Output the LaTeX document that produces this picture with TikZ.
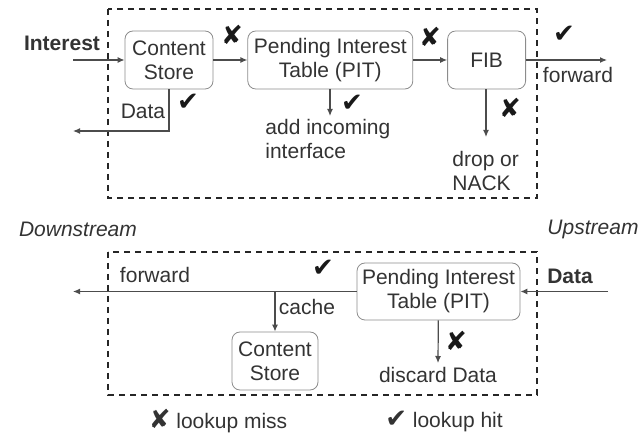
\documentclass[tikz,border=0pt]{standalone}
\usepackage{fontspec}
\setmainfont{Liberation Sans}
\newfontfamily\marksfont{DejaVu Sans}
\usetikzlibrary{arrows.meta,positioning}
\newcommand{\missmark}{{\marksfont\fontsize{13}{13}\selectfont ✘}}
\newcommand{\hitmark}{{\marksfont\fontsize{13}{13}\selectfont ✔}}

\begin{document}
\begin{tikzpicture}[
  x=0.5pt, y=-0.5pt,
  font=\fontsize{10.5}{12}\selectfont,
  box/.style={draw=black!45, rounded corners=4pt, align=center, minimum height=29pt, inner sep=2pt, text=black!80},
  router/.style={draw=black!85, line width=0.9pt, dash pattern=on 3pt off 2.5pt},
  arrow/.style={-{Latex[length=3.5pt,width=3pt]}, draw=black!70, line width=0.6pt},
  note/.style={text=black!80, inner sep=1pt, align=left},
  bold/.style={note, font=\fontsize{10.5}{12}\selectfont\bfseries},
  side/.style={note, font=\fontsize{10.5}{12}\selectfont\itshape},
  tick/.style={inner sep=0pt, text=black!90}
]
\useasboundingbox (0,0) rectangle (641,437);

% upper router: Interest path
\draw[router] (108,9) rectangle (537,198);
\node[box, minimum width=44pt] (cs) at (169,60) {Content\\Store};
\node[box, minimum width=82.5pt, right=17pt of cs] (pit) {Pending Interest\\Table (PIT)};
\node[box, minimum width=39pt, right=17pt of pit] (fib) {FIB};

\node[bold] (interest) at (62,43) {Interest};
\coordinate (intIn) at (73,60);
\coordinate (dataOut) at (73,131);
\coordinate (fwdUp) at (607,60);
\coordinate (pitAdd) at (330,116);
\coordinate (fibDrop) at (486,137);

\draw[arrow] (intIn) -- (cs);
\draw[arrow] (cs) -- (pit);
\draw[arrow] (pit) -- (fib);
\draw[arrow] (fib) -- (fwdUp);
\draw[arrow] (cs.south) |- (dataOut);
\draw[arrow] (pit.south -| pitAdd) -- (pitAdd);
\draw[arrow] (fib.south -| fibDrop) -- (fibDrop);

\node[note] (csData) at (143,111) {Data};
\node[note] (fwdTop) at (578,75) {forward};
\node[note, anchor=north west] (addIf) at (263,117) {add incoming\\interface};
\node[note, anchor=north west] (drop) at (450,149) {drop or\\NACK};

\node[tick] (csHit) at (188,102) {\hitmark};
\node[tick] (csMiss) at (232,35) {\missmark};
\node[tick] (pitHit) at (352,103) {\hitmark};
\node[tick] (pitMiss) at (430,37) {\missmark};
\node[tick] (fibHit) at (564,34) {\hitmark};
\node[tick] (fibMiss) at (510,108) {\missmark};

\node[side] (down) at (78,229) {Downstream};
\node[side] (up) at (593,229) {Upstream};

% lower router: Data path
\draw[router] (108,252) rectangle (537,395);
\node[box, minimum width=81.5pt, minimum height=28.5pt] (pit2) at (438.5,291.5) {Pending Interest\\Table (PIT)};
\node[box, minimum width=43pt] (cs2) at (275,361) {Content\\Store};

\node[bold] (dataIn) at (570,276) {Data};
\coordinate (dataSrc) at (608,291.5);
\coordinate (fwdDown) at (73,291.5);
\coordinate (pitDiscard) at (438,363);

\draw[arrow] (dataSrc) -- (pit2);
\draw[arrow] (pit2) -- (fwdDown);
\draw[arrow] (pit2.west -| cs2.north) -- (cs2);
\draw[arrow] (pit2) -- (pitDiscard);

\node[note] (fwdBot) at (155,275) {forward};
\node[note] (cache) at (307,307) {cache};
\node[note] (discard) at (438,375) {discard Data};
\node[tick] (pit2Hit) at (323,268) {\hitmark};
\node[tick] (pit2Miss) at (456,341) {\missmark};

% legend
\node[note] (legMiss) at (218,421) {\missmark\ lookup miss};
\node[note] (legHit) at (444,421) {\hitmark\ lookup hit};
\end{tikzpicture}
\end{document}
